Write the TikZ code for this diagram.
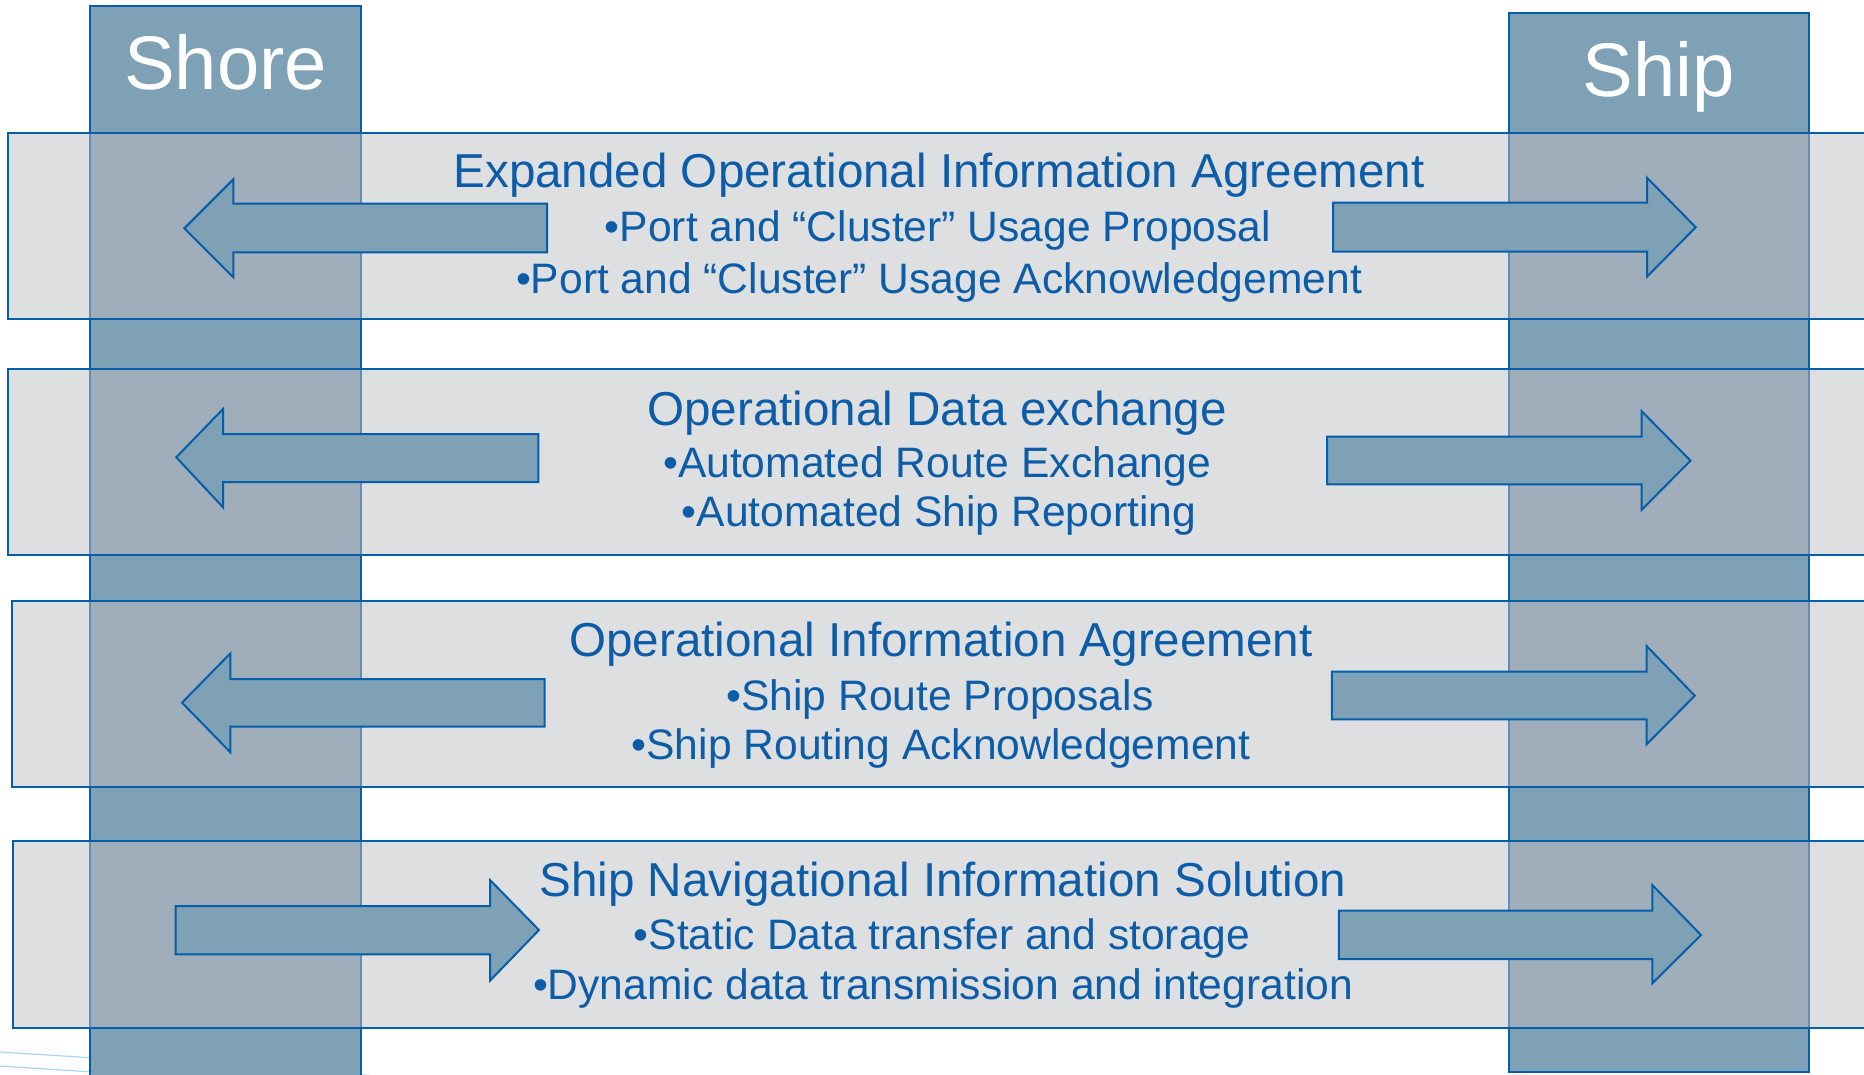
\documentclass[tikz,border=0pt]{standalone}
\usepackage{fontspec}
\setmainfont{Liberation Sans}
\definecolor{colfill}{RGB}{127,161,181}
\definecolor{bandfill}{RGB}{222,223,225}
\definecolor{overfill}{RGB}{159,174,186}
\definecolor{edge}{RGB}{5,94,170}
\definecolor{inner}{RGB}{100,140,182}
\definecolor{txt}{RGB}{12,92,168}
\definecolor{faint}{RGB}{170,215,240}
\tikzset{
  colbox/.style={fill=colfill, draw=edge, line width=1.1pt},
  bandbox/.style={fill=bandfill},
  overbox/.style={fill=overfill},
  bandedge/.style={draw=edge, line width=1.1pt},
  innerline/.style={draw=inner, line width=0.9pt},
  bigarrow/.style={fill=colfill, draw=edge, line width=1pt, line join=miter},
  headtxt/.style={font=\fontsize{38}{44}\selectfont, text=white, inner sep=0, anchor=base},
  titletxt/.style={font=\fontsize{23.8}{28}\selectfont, text=txt, inner sep=0, anchor=base},
  subtxt/.style={font=\fontsize{21.3}{25}\selectfont, text=txt, inner sep=0, anchor=base},
}
\begin{document}
\begin{tikzpicture}[x=0.5pt,y=-0.5pt]
\useasboundingbox (0,0) rectangle (1864,1075);
\clip (0,0) rectangle (1864,1075);
\fill[white] (0,0) rectangle (1864,1075);

% faint background lines
\draw[faint, line width=0.6pt] (0,1052) -- (380,1076);
\draw[faint, line width=0.6pt] (0,1066) -- (170,1077);

% columns
\path[colbox] (90,6) rectangle (361,1090);
\path[colbox] (1509,13) rectangle (1809,1072);

% bands (fill)
\path[bandbox] (8,133) rectangle (1880,319);
\path[bandbox] (7.6,369) rectangle (1880,555);
\path[bandbox] (11.6,600.7) rectangle (1880,787.3);
\path[bandbox] (13,841) rectangle (1880,1028);

% overlaps
\foreach \ya/\yb in {133/319, 369/555, 600.7/787.3, 841/1028} {
  \path[overbox] (90,\ya) rectangle (361,\yb);
  \path[overbox] (1509,\ya) rectangle (1809,\yb);
  \draw[innerline] (90,\ya) -- (90,\yb);
  \draw[innerline] (361,\ya) -- (361,\yb);
  \draw[innerline] (1509,\ya) -- (1509,\yb);
  \draw[innerline] (1809,\ya) -- (1809,\yb);
}

% band borders
\path[bandedge] (8,133) rectangle (1880,319);
\path[bandedge] (7.6,369) rectangle (1880,555);
\path[bandedge] (11.6,600.7) rectangle (1880,787.3);
\path[bandedge] (13,841) rectangle (1880,1028);

% arrows band 1
\path[bigarrow] (547,203.7) -- (233.3,203.7) -- (233.3,179.3) -- (184.3,228.3) -- (233.3,277.3) -- (233.3,252.3) -- (547,252.3) -- cycle;
\path[bigarrow] (1333,202.7) -- (1647,202.7) -- (1647,177.7) -- (1695.7,227.3) -- (1647,276.7) -- (1647,251.7) -- (1333,251.7) -- cycle;
% arrows band 2
\path[bigarrow] (538.4,434) -- (223,434) -- (223,409) -- (176.3,457.3) -- (223,507.3) -- (223,482) -- (538.4,482) -- cycle;
\path[bigarrow] (1327,436.7) -- (1641.5,436.7) -- (1641.5,411) -- (1690.5,460.7) -- (1641.5,510) -- (1641.5,484.3) -- (1327,484.3) -- cycle;
% arrows band 3
\path[bigarrow] (544.6,679) -- (230.4,679) -- (230.4,653.3) -- (182,702.7) -- (230.4,752.3) -- (230.4,726.7) -- (544.6,726.7) -- cycle;
\path[bigarrow] (1331.8,671.7) -- (1646.6,671.7) -- (1646.6,646) -- (1694.8,695.7) -- (1646.6,744.3) -- (1646.6,719.3) -- (1331.8,719.3) -- cycle;
% arrows band 4
\path[bigarrow] (175.7,906) -- (490,906) -- (490,880) -- (539,930) -- (490,980.7) -- (490,954.3) -- (175.7,954.3) -- cycle;
\path[bigarrow] (1338.8,910.7) -- (1652.3,910.7) -- (1652.3,885) -- (1701,935) -- (1652.3,983.3) -- (1652.3,959) -- (1338.8,959) -- cycle;

% headers
\node[headtxt] (shore) at (225.5,89.3) {Shore};
\node[headtxt] (ship) at (1659,96.7) {Ship};

% band 1 text
\node[titletxt] (b1t) at (939,187.3) {Expanded Operational Information Agreement};
\node[subtxt] (b1a) at (938,241.7) {•Port and “Cluster” Usage Proposal};
\node[subtxt] (b1b) at (939,293.3) {•Port and “Cluster” Usage Acknowledgement};
% band 2 text
\node[titletxt] (b2t) at (937,425) {Operational Data exchange};
\node[subtxt] (b2a) at (937,477.7) {•Automated Route Exchange};
\node[subtxt] (b2b) at (939,526.7) {•Automated Ship Reporting};
% band 3 text
\node[titletxt] (b3t) at (941,656) {Operational Information Agreement};
\node[subtxt] (b3a) at (940,710) {•Ship Route Proposals};
\node[subtxt] (b3b) at (941,759.3) {•Ship Routing Acknowledgement};
% band 4 text
\node[titletxt] (b4t) at (943,896) {Ship Navigational Information Solution};
\node[subtxt] (b4a) at (942,949.3) {•Static Data transfer and storage};
\node[subtxt] (b4b) at (943,999.3) {•Dynamic data transmission and integration};
\end{tikzpicture}
\end{document}
